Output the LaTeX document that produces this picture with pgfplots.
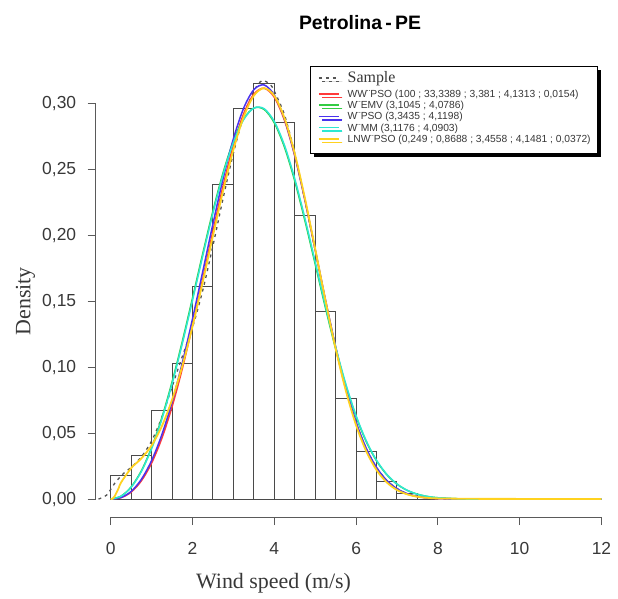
\documentclass[border=0pt]{standalone}
\usepackage{pgfplots}
\pgfplotsset{compat=1.18}
\usepackage{fontspec}
\setmainfont{Liberation Serif}
\setsansfont{Liberation Sans}
\usetikzlibrary{shadows}
\definecolor{axcol}{HTML}{5A5A5A}
\definecolor{txtcol}{HTML}{383838}
\definecolor{barcol}{HTML}{4A4A4A}
\definecolor{cred}{HTML}{FF3A3A}
\definecolor{cgreen}{HTML}{33CC44}
\definecolor{cblue}{HTML}{4A33EE}
\definecolor{ccyan}{HTML}{2EE8D2}
\definecolor{cyellow}{HTML}{FFD21F}
\definecolor{csample}{HTML}{555555}
\begin{document}
\begin{tikzpicture}
\begin{axis}[
  at={(0,0)}, anchor=south west,
  scale only axis, width=520.1bp, height=449.6bp,
  xmin=-0.367, xmax=12.35, ymin=-0.0136, ymax=0.327,
  axis x line*=bottom, axis y line*=left,
  axis line style={draw=none},
  clip=false,
  xtick={0,2,4,6,8,10,12},
  ytick={0,0.05,0.1,0.15,0.2,0.25,0.3},
  scaled y ticks=false,
  tick align=outside, major tick length=8bp,
  tick style={draw=axcol, line width=1bp},
  /pgf/number format/assume math mode=true,
  yticklabel style={/pgf/number format/fixed, /pgf/number format/fixed zerofill,
    /pgf/number format/precision=2, /pgf/number format/use comma, xshift=-8bp},
  ticklabel style={font=\sffamily\fontsize{17.5}{18}\selectfont, text=txtcol},
  xticklabel style={yshift=-14bp},
  xlabel={Wind speed (m/s)},
  ylabel={Density},
  label style={font=\rmfamily\fontsize{22}{24}\selectfont, text=txtcol},
  xlabel style={at={(axis description cs:0.342,-0.147)}, anchor=center},
  ylabel style={at={(axis description cs:-0.135,0.48)}, anchor=center},
  legend image code/.code={\draw[#1] (0bp,0.8bp) -- (20bp,0.8bp);},
  legend cell align=left,
  legend style={at={(axis description cs:0.966,1.004)}, anchor=north east,
    draw=black, line width=0.9bp, fill=white,
    font=\sffamily\fontsize{10.3}{10.3}\selectfont, text=txtcol,
    row sep=0.7bp, inner xsep=7bp, inner ysep=3bp,
    nodes={inner sep=0bp, text height=8bp, text depth=2.6bp},
    /tikz/every odd column/.append style={column sep=8bp},
    drop shadow={shadow xshift=3.5bp, shadow yshift=-3.5bp, fill=black, opacity=1}},
]
% histogram
\addplot[ybar interval, draw=barcol, fill=none, line width=1bp, forget plot] coordinates {
(0,0.018) (0.5,0.033) (1,0.067) (1.5,0.103) (2,0.161) (2.5,0.238) (3,0.296) (3.5,0.315)
(4,0.285) (4.5,0.215) (5,0.142) (5.5,0.076) (6,0.036) (6.5,0.0136) (7,0.004) (7.5,0.0012) (8,0.0012)};
% sample (kernel density)
\addplot[csample, line width=1.3bp, dash pattern=on 3bp off 4bp, smooth] coordinates {
(-0.3,0) (-0.1,0.003) (0.1,0.012) (0.3,0.019) (0.5,0.024) (0.75,0.032) (1,0.044) (1.25,0.062)
(1.5,0.085) (1.75,0.108) (2,0.130) (2.25,0.158) (2.5,0.192) (2.75,0.228) (3,0.262) (3.25,0.290)
(3.5,0.309) (3.7,0.317) (3.9,0.314) (4,0.309) (4.25,0.291) (4.5,0.262) (4.75,0.226) (5,0.188)
(5.25,0.150) (5.5,0.115) (5.75,0.084) (6,0.058) (6.25,0.038) (6.5,0.024) (6.75,0.014) (7,0.008)
(7.25,0.004) (7.5,0.002) (7.75,0.0008) (8,0.0003) (8.3,0)};
\addlegendentry[text height=13bp, text depth=6.6bp]{\rmfamily\fontsize{16}{16}\selectfont Sample}
% WW PSO
\addplot[cred, line width=1.5bp, smooth] coordinates {
(0,0) (0.25,0.00101) (0.5,0.00528) (0.75,0.01382) (1,0.02727) (1.25,0.04597) (1.5,0.06990)
(1.75,0.09867) (2,0.13143) (2.25,0.16680) (2.5,0.20293) (2.75,0.23751) (3,0.26799) (3.25,0.29184)
(3.5,0.30678) (3.75,0.31121) (4,0.30441) (4.25,0.28679) (4.5,0.25988) (4.75,0.22615) (5,0.18863)
(5.25,0.15052) (5.5,0.11464) (5.75,0.08318) (6,0.05734) (6.25,0.03747) (6.5,0.02315) (6.75,0.01349)
(7,0.00739) (7.25,0.00380) (7.5,0.00183) (7.75,0.00082) (8,0.00034) (9,0) (12,0)};
\addlegendentry{WW¨PSO (100 ; 33,3389 ; 3,381 ; 4,1313 ; 0,0154)}
% W EMV
\addplot[cgreen, line width=1.5bp, smooth] coordinates {
(0,0) (0.25,0.00214) (0.5,0.00917) (0.75,0.02145) (1,0.03901) (1.25,0.06160) (1.5,0.08867)
(1.75,0.11933) (2,0.15228) (2.25,0.18591) (2.5,0.21833) (2.75,0.24745) (3,0.27126) (3.25,0.28795)
(3.5,0.29619) (3.75,0.29520) (4,0.28501) (4.25,0.26644) (4.5,0.24100) (4.75,0.21073) (5,0.17795)
(5.25,0.14494) (5.5,0.11376) (5.75,0.08591) (6,0.06234) (6.25,0.04340) (6.5,0.02896) (6.75,0.01849)
(7,0.01128) (7.25,0.00656) (7.5,0.00363) (7.75,0.00191) (8,0.00096) (8.5,0.0002) (9,0) (12,0)};
\addlegendentry{W¨EMV (3,1045 ; 4,0786)}
% W PSO
\addplot[cblue, line width=1.5bp, smooth] coordinates {
(0,0) (0.25,0.00114) (0.5,0.00579) (0.75,0.01493) (1,0.02914) (1.25,0.04869) (1.5,0.07349)
(1.75,0.10307) (2,0.13648) (2.25,0.17228) (2.5,0.20854) (2.75,0.24295) (3,0.27297) (3.25,0.29609)
(3.5,0.31016) (3.75,0.31369) (4,0.30606) (4.25,0.28780) (4.5,0.26048) (4.75,0.22657) (5,0.18909)
(5.25,0.15111) (5.5,0.11541) (5.75,0.08407) (6,0.05827) (6.25,0.03835) (6.5,0.02391) (6.75,0.01408)
(7,0.00782) (7.25,0.00408) (7.5,0.00200) (7.75,0.00091) (8,0.00039) (9,0) (12,0)};
\addlegendentry{W¨PSO (3,3435 ; 4,1198)}
% W MM
\addplot[ccyan, line width=1.5bp, smooth] coordinates {
(0,0) (0.25,0.00205) (0.5,0.00888) (0.75,0.02089) (1,0.03813) (1.25,0.06040) (1.5,0.08719)
(1.75,0.11762) (2,0.15045) (2.25,0.18408) (2.5,0.21663) (2.75,0.24603) (3,0.27024) (3.25,0.28743)
(3.5,0.29620) (3.75,0.29575) (4,0.28605) (4.25,0.26787) (4.5,0.24267) (4.75,0.21250) (5,0.17968)
(5.25,0.14653) (5.5,0.11511) (5.75,0.08700) (6,0.06316) (6.25,0.04398) (6.5,0.02935) (6.75,0.01873)
(7,0.01142) (7.25,0.00663) (7.5,0.00367) (7.75,0.00193) (8,0.00096) (8.5,0.0002) (9,0) (12,0)};
\addlegendentry{W¨MM (3,1176 ; 4,0903)}
% LNW PSO
\addplot[cyellow, line width=1.8bp, smooth, legend image post style={yshift=2.7bp}] coordinates {
(0,0) (0.05,0.00032) (0.1,0.00229) (0.15,0.00539) (0.2,0.00867) (0.25,0.01243) (0.5,0.02342)
(0.75,0.03081) (1,0.04059) (1.25,0.05516) (1.5,0.07525) (1.75,0.10073) (2,0.13089) (2.25,0.16442)
(2.5,0.19949) (2.75,0.23380) (3,0.26469) (3.25,0.28947) (3.5,0.30561) (3.75,0.31127) (4,0.30551)
(4.25,0.28852) (4.5,0.26175) (4.75,0.22768) (5,0.18950) (5.25,0.15058) (5.5,0.11397) (5.75,0.08198)
(6,0.05591) (6.25,0.03607) (6.5,0.02197) (6.75,0.01263) (7,0.00687) (7.25,0.00355) (7.5,0.00178)
(7.75,0.00090) (8,0.00048) (9,0.00015) (10,0.00011) (11,0.00007) (12,0.00005)};
\addlegendentry[text depth=8bp]{LNW¨PSO (0,249 ; 0,8688 ; 3,4558 ; 4,1481 ; 0,0372)}
% R-style axis lines
\draw[axcol, line width=1bp] (axis cs:0,-0.0136) -- (axis cs:12,-0.0136);
\draw[axcol, line width=1bp] (axis cs:-0.367,0) -- (axis cs:-0.367,0.30);
\end{axis}
\node[font=\sffamily\bfseries\fontsize{19.5}{21}\selectfont, text=black] at (264.3bp,494bp) {Petrolina\,-\,PE};
\pgfresetboundingbox
\path (-95.7bp,-82bp) rectangle (522.3bp,517bp);
\end{tikzpicture}
\end{document}
